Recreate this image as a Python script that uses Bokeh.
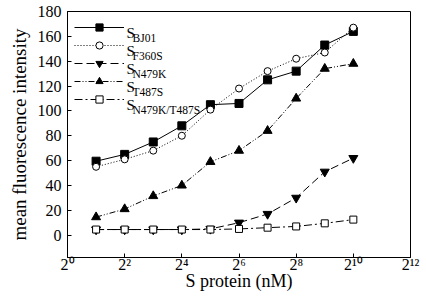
from bokeh.plotting import figure
from bokeh.models import FixedTicker, Range1d, Legend, LegendItem, Label
from bokeh.embed import file_html
from bokeh.resources import INLINE

conc = [2, 4, 8, 16, 32, 64, 128, 256, 512, 1024]
bj01 = [59.5, 65, 75, 88, 105, 106, 125, 132, 153, 164]
f360s = [55, 61, 68, 80, 101, 118, 132, 142, 147, 167]
n479k = [4.5, 4.5, 4.5, 4.5, 5, 10, 17, 30, 51, 62]
t487s = [14.5, 21, 31.5, 40, 59, 68, 84, 110, 134, 138]
n479k_t487s = [4.5, 4.5, 4.5, 4.5, 4.5, 5, 6, 7, 9.5, 12.5]
subscripts = ["BJ01", "F360S", "N479K", "T487S", "N479K/T487S"]
x_ticks = [1, 4, 16, 64, 256, 1024, 4096]
x_tick_labels = ["2\u2070", "2\u00b2", "2\u2074", "2\u2076", "2\u2078", "2\u00b9\u2070", "2\u00b9\u00b2"]
y_ticks = [0, 20, 40, 60, 80, 100, 120, 140, 160, 180]

FONT = "Liberation Serif"
W, H = 420, 300
LEFT, TOP, RIGHT, BOTTOM = 67, 11, 10, 43
LEG_MARGIN = 7

p = figure(width=W, height=H, x_axis_type="log", output_backend="svg",
           toolbar_location=None, min_border_left=LEFT, min_border_right=RIGHT,
           min_border_top=TOP, min_border_bottom=BOTTOM)
p.x_range = Range1d(1, 4096)
p.y_range = Range1d(-18, 180)
p.grid.visible = False
p.outline_line_color = "black"
p.outline_line_width = 1
p.background_fill_color = "white"
p.border_fill_color = "white"

p.xaxis.ticker = FixedTicker(ticks=x_ticks, minor_ticks=[])
p.xaxis.major_label_overrides = {t: l for t, l in zip(x_ticks, x_tick_labels)}
p.yaxis.ticker = FixedTicker(ticks=y_ticks, minor_ticks=[])
for ax in (p.xaxis, p.yaxis):
    ax.major_tick_in = 4
    ax.major_tick_out = 0
    ax.minor_tick_in = 0
    ax.minor_tick_out = 0
    ax.axis_line_color = "black"
    ax.major_tick_line_color = "black"
    ax.major_label_text_font = FONT
    ax.major_label_text_font_size = "16px"
    ax.major_label_text_color = "black"
    ax.axis_label_text_font = FONT
    ax.axis_label_text_font_style = "normal"
    ax.axis_label_text_color = "black"
p.xaxis.axis_label = "S protein (nM)"
p.yaxis.axis_label = "mean fluorescence intensity"
p.xaxis.axis_label_text_font_size = "18px"
p.yaxis.axis_label_text_font_size = "19px"
p.xaxis.major_label_standoff = -2
p.xaxis.axis_label_standoff = -5
p.yaxis.major_label_standoff = 6
p.yaxis.axis_label_standoff = 5

series = [
    (bj01, "solid", "square", "black", 8),
    (f360s, "1 2", "circle", "white", 7),
    (n479k, "8 4", "inverted_triangle", "black", 9),
    (t487s, "6 2 1 2 1 2", "triangle", "black", 9),
    (n479k_t487s, "8 3 2 3", "square", "white", 7),
]
items = []
for vals, dash, marker, fill, size in series:
    r1 = p.line(conc, vals, line_color="black", line_width=1, line_dash=dash)
    r2 = p.scatter(conc, vals, marker=marker, size=size, line_color="black",
                   fill_color=fill, line_width=1)
    items.append(LegendItem(label=" ", renderers=[r1, r2]))

legend = Legend(items=items, location="top_left", glyph_width=50, glyph_height=18,
                spacing=0, padding=0, margin=LEG_MARGIN, border_line_color=None,
                background_fill_alpha=0, label_standoff=2,
                label_text_font_size="6px")
p.add_layout(legend)

# legend text: "S" with subscript, screen units measured up from the frame bottom
FRAME_BOTTOM = H - BOTTOM
for i, sub in enumerate(subscripts):
    row = TOP + LEG_MARGIN + 9 + 18 * i   # row centre, pixels from top of canvas
    p.add_layout(Label(x=59, y=FRAME_BOTTOM - (row + 5), x_units="screen", y_units="screen",
                       text="S", text_font=FONT, text_font_size="15px",
                       text_color="black", text_baseline="alphabetic"))
    p.add_layout(Label(x=65, y=FRAME_BOTTOM - (row + 10), x_units="screen", y_units="screen",
                       text=sub, text_font=FONT, text_font_size="11.5px",
                       text_color="black", text_baseline="alphabetic"))

open("out.html", "w").write(file_html(p, INLINE))
